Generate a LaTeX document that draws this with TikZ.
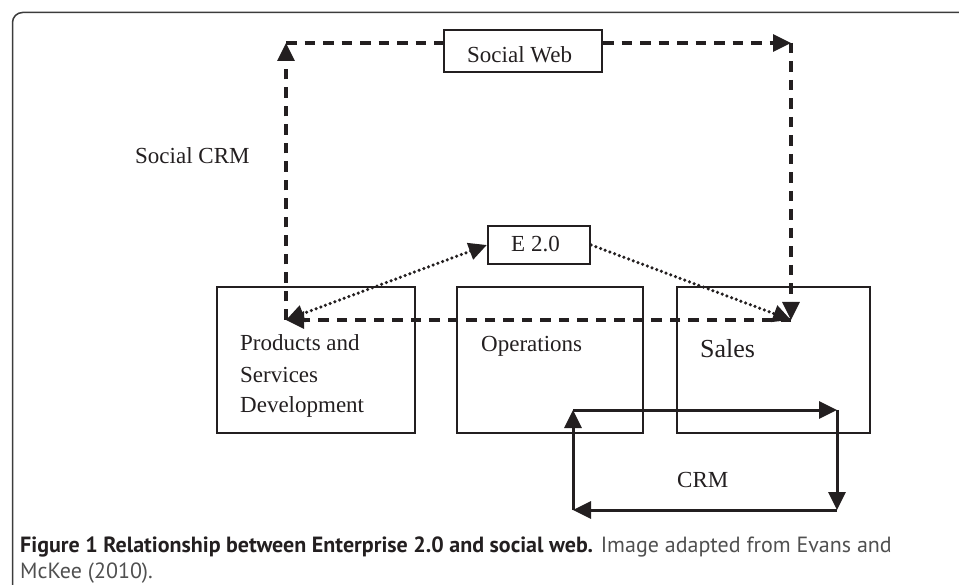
\documentclass[tikz,border=0pt]{standalone}
\usepackage{fontspec}
\setmainfont{Liberation Serif}
\newfontfamily\capfont{PT Sans}
\usetikzlibrary{arrows.meta}
\definecolor{framegray}{HTML}{3C3C3C}
\definecolor{capgray}{HTML}{505050}
\definecolor{ink}{HTML}{231F20}
\begin{document}
\begin{tikzpicture}[x=1pt,y=-1pt,
  >={Triangle[length=18pt,width=17pt]},
  box/.style={draw=ink, line width=2.3pt, inner sep=0pt},
  lbl/.style={inner sep=0pt, anchor=base west, text=ink, font=\fontsize{23}{31}\selectfont},
  dashln/.style={draw=ink, line width=3.3pt, dash pattern=on 10.5pt off 8pt},
  dotln/.style={draw=ink, line width=3.5pt, line cap=round, dash pattern=on 0pt off 5pt},
  solidln/.style={draw=ink, line width=3pt}
]
\useasboundingbox (0,0) rectangle (959,585);
% frame
\draw[framegray, line width=1.5pt, rounded corners=10pt] (12.5,600) -- (12.5,12.5) -- (975,12.5);

% boxes
\node[box, minimum width=158pt, minimum height=42pt] (sw) at (523,51) {};
\node[box, minimum width=102pt, minimum height=38pt] (e) at (539,245) {};
\node[box, minimum width=198pt, minimum height=146pt] (pd) at (316,360) {};
\node[box, minimum width=186pt, minimum height=146pt] (op) at (550,360) {};
\node[box, minimum width=193pt, minimum height=146pt] (sa) at (773.5,360) {};

% labels
\node[lbl] (swt) at (467,63) {Social Web};
\node[lbl] (scrm) at (135,164) {Social CRM};
\node[lbl] (et) at (511,252) {E 2.0};
\node[lbl] (pd1) at (240,351) {Products and};
\node[lbl] (pd2) at (240,382) {Services};
\node[lbl] (pd3) at (240,413) {Development};
\node[lbl] (opt) at (481,352) {Operations};
\node[lbl, font=\fontsize{26}{31}\selectfont] (sat) at (700,358) {Sales};
\node[lbl] (crmt) at (677,487) {CRM};

% social CRM loop corners
\coordinate (tl) at (286,43);
\coordinate (tr) at (791,43);
\coordinate (bl) at (286,320);
\coordinate (br) at (791,320);
\draw[dashln, ->] (bl) -- (tl);
\draw[dashln] (tl) -- (tl -| sw.west);
\draw[dashln, ->] (tr -| sw.east) -- (tr);
\draw[dashln, ->] (tr) -- (br);
\draw[dashln, ->] (br) -- (bl);

% E 2.0 dotted arrows
\draw[dotln, <->] (bl) -- (e.west);
\draw[dotln, ->] (e.east) -- (br);

% CRM loop
\coordinate (c1) at (573,410);
\coordinate (c2) at (837,410);
\coordinate (c3) at (837,510);
\coordinate (c4) at (573,510);
\draw[solidln, ->] (c4) -- (c1);
\draw[solidln, ->] (c1) -- (c2);
\draw[solidln, ->] (c2) -- (c3);
\draw[solidln, ->] (c3) -- (c4);

% caption
\node[inner sep=0pt, anchor=base west, text=ink] (cap1) at (20,552)
  {\capfont\fontsize{22}{22}\selectfont\textbf{Figure 1 Relationship between Enterprise 2.0 and social web.} \textcolor{capgray}{Image adapted from Evans and}};
\node[inner sep=0pt, anchor=base west, text=capgray] (cap2) at (20,578)
  {\capfont\fontsize{22}{22}\selectfont McKee (2010).};
\end{tikzpicture}
\end{document}
